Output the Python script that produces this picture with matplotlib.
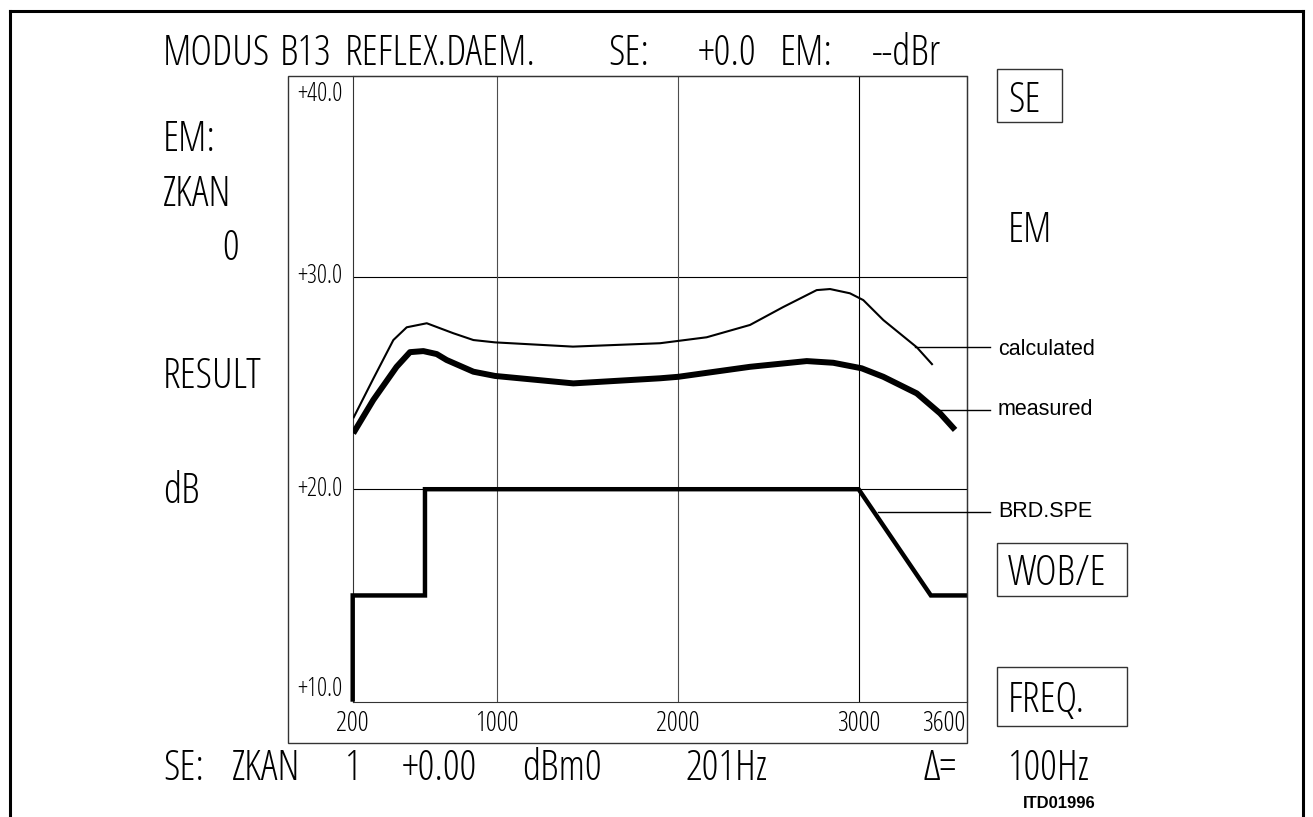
import matplotlib
matplotlib.use("Agg")
import matplotlib.pyplot as plt
from matplotlib.lines import Line2D
from matplotlib.patches import Rectangle
import matplotlib.transforms as mtransforms

W, H = 1313, 817

# curve data (Hz, dB)
freq_calc = [203, 314, 425, 499, 610, 685, 757, 868, 988, 1419, 1901, 2159,
             2399, 2582, 2768, 2842, 2952, 3026, 3137, 3322, 3410]
db_calc = [23.34, 25.2, 27.02, 27.62, 27.81, 27.57, 27.34, 27.02, 26.91, 26.71,
           26.87, 27.15, 27.73, 28.57, 29.37, 29.42, 29.22, 28.90, 27.96, 26.68, 25.85]

freq_meas = [203, 314, 443, 517, 591, 665, 720, 868, 988, 1421, 1901, 2002,
             2399, 2713, 2860, 3017, 3137, 3322, 3451, 3534]
db_meas = [22.63, 24.2, 25.76, 26.45, 26.5, 26.36, 26.08, 25.53, 25.33, 24.98,
           25.22, 25.29, 25.76, 26.03, 25.95, 25.69, 25.29, 24.51, 23.57, 22.79]

freq_mask = [200, 200, 600, 600, 3000, 3400, 3600]
db_mask = [10, 15, 15, 20, 20, 15, 15]

x_ticks = [200, 1000, 2000, 3000, 3600]
x_labels = ["200", "1000", "2000", "3000", "3600"]
y_ticks = [10, 20, 30, 40]
y_labels = ["+10.0", "+20.0", "+30.0", "+40.0"]
grid_x = [1000, 2000, 3000]
grid_y = [20, 30]


def fx(px):
    return px / W


def fy(py):
    return 1 - py / H


PLOT = dict(family=["Open Sans", "DejaVu Sans"], stretch="condensed", weight="light",
            color="black")
SANS = dict(family="Liberation Sans", color="black")

fig = plt.figure(figsize=(W / 100, H / 100), dpi=100)

# main plot area
left, right, top, bottom = 352.7, 967, 75.7, 701.7
ax = fig.add_axes([fx(left), fy(bottom), (right - left) / W, (bottom - top) / H])
ax.set_xlim(200, 3600)
ax.set_ylim(10, 39.46)
ax.set_xticks([])
ax.set_yticks([])
for s in ax.spines.values():
    s.set_linewidth(0.8)
    s.set_color("0.2")

for g in grid_y:
    ax.axhline(g, color="black", lw=0.8, zorder=1)
for g in grid_x:
    ax.axvline(g, color="0.3" if g < 3000 else "black", lw=0.8, zorder=1)

ax.plot(freq_calc, db_calc, color="black", lw=1.5, solid_capstyle="butt", zorder=3)
ax.plot(freq_meas, db_meas, color="black", lw=4.3, solid_capstyle="butt", zorder=3)
ax.plot(freq_mask, db_mask, color="black", lw=3.2, solid_capstyle="butt",
        solid_joinstyle="miter", clip_on=False, zorder=3)

# tick labels in the strips around the plot area
ytrans = mtransforms.blended_transform_factory(fig.transFigure, ax.transData)
for v, lab in zip(y_ticks, y_labels):
    if v == 40:
        fig.text(fx(342), fy(82), lab, ha="right", va="top", fontsize=18, **PLOT)
    elif v == 10:
        ax.text(fx(342), v, lab, ha="right", va="bottom", fontsize=18,
                transform=ytrans, **PLOT)
    else:
        ax.text(fx(342), v, lab, ha="right", va="center", fontsize=18,
                transform=ytrans, **PLOT)

xtrans = mtransforms.blended_transform_factory(ax.transData, fig.transFigure)
for v, lab in zip(x_ticks, x_labels):
    ha = "right" if v == 3600 else "center"
    ax.text(v - (8 if v == 3600 else 0), fy(731), lab, ha=ha, va="baseline",
            fontsize=19.5, transform=xtrans, **PLOT)

# outer box around plot and label strips
fig.add_artist(Rectangle((fx(288), fy(743)), (967 - 288) / W, (743 - 75.7) / H,
                         fill=False, lw=1.0, ec="0.2", transform=fig.transFigure))

# page frame (open at the bottom)
for (x0, y0, x1, y1) in [(10, 11, 1303, 11), (10, 11, 10, 817), (1303, 11, 1303, 817)]:
    fig.add_artist(Line2D([fx(x0), fx(x1)], [fy(y0), fy(y1)], color="black", lw=2.2,
                          transform=fig.transFigure))

# plotter texts
big = 30
words = [
    (163, 65, "MODUS"), (280, 65, "B13"), (345, 65, "REFLEX.DAEM."),
    (608, 65, "SE:"), (698, 65, "+0.0"), (780, 65, "EM:"), (872, 65, "--dBr"),
    (163, 151, "EM:"), (163, 206, "ZKAN"), (222, 260, "0"),
    (163, 388, "RESULT"), (163, 503, "dB"),
    (1008, 112, "SE"), (1008, 242, "EM"), (1008, 585, "WOB/E"), (1008, 712, "FREQ."),
    (163, 780, "SE:"), (232, 780, "ZKAN"), (345, 780, "1"), (402, 780, "+0.00"),
    (522, 780, "dBm0"), (685, 780, "201Hz"), (923, 780, "\u0394="), (1008, 780, "100Hz"),
]
for px, py, s in words:
    fig.text(fx(px), fy(py), s, ha="left", va="baseline", fontsize=big, **PLOT)

# boxes around the side keys
for (x0, y0, x1, y1) in [(997, 69, 1062, 122), (997, 543, 1127, 596), (997, 667, 1127, 726)]:
    fig.add_artist(Rectangle((fx(x0), fy(y1)), (x1 - x0) / W, (y1 - y0) / H,
                             fill=False, lw=1.0, ec="0.2", transform=fig.transFigure))

# curve labels with leader lines
for (x0, y, lab, base) in [(915, 347, "calculated", 355), (940, 410, "measured", 415),
                          (878, 512, "BRD.SPE", 517)]:
    fig.add_artist(Line2D([fx(x0), fx(990)], [fy(y), fy(y)], color="black", lw=1.0,
                          transform=fig.transFigure))
    fig.text(fx(998), fy(base), lab, ha="left", va="baseline", fontsize=15.5, **SANS)

fig.text(fx(1023), fy(808), "ITD01996", ha="left", va="baseline", fontsize=12,
         weight="bold", **SANS)

fig.savefig("out.png", dpi=100)
